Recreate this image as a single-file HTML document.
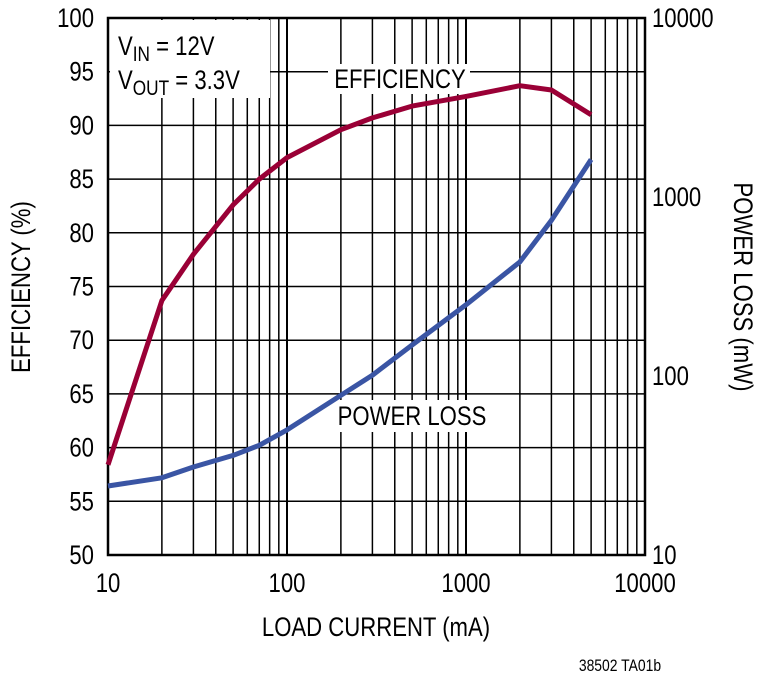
<!DOCTYPE html>
<html><head><meta charset="utf-8"><style>
html,body{margin:0;padding:0;background:#fff;}
svg{display:block;font-family:"Liberation Sans",sans-serif;}
</style></head><body>
<svg id="chart" width="760" height="683" viewBox="0 0 760 683" xmlns="http://www.w3.org/2000/svg">
<g id="grid"></g>
<g id="marks"></g>
<g id="labels"></g>
</svg>
<script>
const loadCurrent = [10,20,30,50,70,100,200,300,500,1000,2000,3000,5000];
const efficiency = [58.4,73.7,78,82.6,85,87,89.6,90.7,91.8,92.7,93.7,93.3,91];
const powerLoss = [24.3,27,31,36,41,50,78,101,149,250,434,740,1620];
const xTicks = [10,100,1000,10000];
const effTicks = [50,55,60,65,70,75,80,85,90,95,100];
const plTicks = [10,100,1000,10000];

const L=108,R=645,T=18,B=555;
const NS="http://www.w3.org/2000/svg";
const xs=v=>L+(Math.log10(v)-1)/3*(R-L);
const ye=v=>B-(v-50)/50*(B-T);
const yp=v=>B-(Math.log10(v)-1)/3*(B-T);
function mk(tag,attrs,parent){const e=document.createElementNS(NS,tag);for(const k in attrs)e.setAttribute(k,attrs[k]);parent.appendChild(e);return e;}
const grid=document.getElementById('grid'),marks=document.getElementById('marks'),labels=document.getElementById('labels');

// vertical grid
for(let d=10;d<10000;d*=10){for(let m=1;m<10;m++){const x=xs(d*m);
const l=mk('line',{x1:x,x2:x,y1:T,y2:B,stroke:'#000','stroke-width':m==1?2:1.5},grid);

}}
// horizontal grid
effTicks.forEach(v=>{const y=ye(v);
const l=mk('line',{x1:L,x2:R,y1:y,y2:y,stroke:'#000','stroke-width':1.5},grid);

});
const fr=mk('rect',{x:L,y:T,width:R-L,height:B-T,fill:'none',stroke:'#000','stroke-width':2.5},grid);



// label boxes (white)
function box(x,y,w,h,name){const r=mk('rect',{x,y,width:w,height:h,fill:'#fff'},marks);

}
box(L+2,T+2,160,78,'conditions-box');

function txt(s,x,y,anchor,size,name,rot){
const t=mk('text',{x:0,y:0,'text-anchor':anchor,'font-size':size,fill:'#000',
transform:`translate(${x},${y})${rot?' rotate('+rot+')':''} scale(0.82,1)`},labels);
t.textContent=s;


return t;}

// curves
function path(xv,yv,fy,color,name){let d='';xv.forEach((x,i)=>{d+=(i?'L':'M')+xs(x).toFixed(1)+','+fy(yv[i]).toFixed(1);});
const p=mk('path',{d,fill:'none',stroke:color,'stroke-width':5,'stroke-linejoin':'round','stroke-linecap':'butt'},marks);

}
box(328,64,142,30,'efficiency-label-bg');
box(328,400,166,32,'power-loss-label-bg');
path(loadCurrent,efficiency,ye,'#9a0036','efficiency-line');
path(loadCurrent,powerLoss,yp,'#3a55a4','power-loss-line');

effTicks.forEach(v=>txt(String(v),94,ye(v)+9,'end',27,'y-tick-label'));
plTicks.forEach(v=>txt(String(v),652,yp(v)+9,'start',27,'y2-tick-label'));
xTicks.forEach(v=>txt(String(v),xs(v),592,'middle',27,'x-tick-label'));
txt('LOAD CURRENT (mA)',376,636,'middle',27,'x-axis-title');
txt('EFFICIENCY (%)',30,287,'middle',27,'y-axis-title',-90);
txt('POWER LOSS (mW)',734,287,'middle',27,'y2-axis-title',90);
txt('EFFICIENCY',400,88,'middle',27,'efficiency-label');
txt('POWER LOSS',412,425,'middle',27,'power-loss-label');
txt('38502 TA01b',620,671,'middle',17,'figure-id');
// conditions
const c1=txt('',118,55,'start',27,'vin-label');
c1.innerHTML='V<tspan font-size="21" dy="6">IN</tspan><tspan dy="-6"> = 12V</tspan>';
const c2=txt('',118,89,'start',27,'vout-label');
c2.innerHTML='V<tspan font-size="21" dy="6">OUT</tspan><tspan dy="-6"> = 3.3V</tspan>';
</script>
</body></html>
